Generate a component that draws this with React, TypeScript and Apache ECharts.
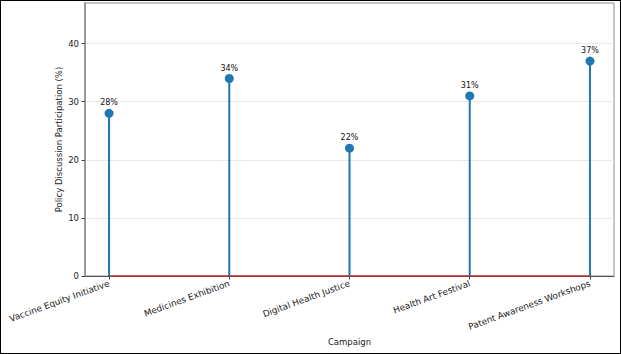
import React, { useEffect, useRef } from "react";
import * as echarts from "echarts";

const categories = [
  "Vaccine Equity Initiative",
  "Medicines Exhibition",
  "Digital Health Justice",
  "Health Art Festival",
  "Patent Awareness Workshops",
];
const participation = [28, 34, 22, 31, 37];
const yTicks = [0, 10, 20, 30, 40];

const FONT = "DejaVu Sans";

export default function App() {
  const ref = useRef<HTMLDivElement>(null);
  useEffect(() => {
    if (!ref.current) return;
    const chart = echarts.init(ref.current, null, { renderer: "svg" });
    const idx = categories.map((_, i) => i);
    const points = participation.map((v, i) => [i, v]);
    chart.setOption({
      animation: false,
      backgroundColor: "#fff",
      textStyle: { fontFamily: FONT },
      grid: {
        left: 85,
        right: 7,
        top: 3,
        bottom: 78,
        show: true,
        borderColor: "#8c8c8c",
        borderWidth: 1,
      },
      xAxis: {
        type: "value",
        min: -0.2,
        max: 4.2,
        name: "Campaign",
        nameLocation: "middle",
        nameGap: 61,
        nameMoveOverlap: false,
        nameTextStyle: { fontFamily: FONT, fontSize: 8.5, color: "#222" },
        splitLine: { show: false },
        axisLine: { show: true, onZero: false, lineStyle: { color: "#555", width: 1 } },
        axisTick: {
          show: true,
          customValues: idx,
          length: 3.5,
          lineStyle: { color: "#444" },
        },
        axisLabel: {
          customValues: idx,
          rotate: 20,
          margin: 7,
          fontFamily: FONT,
          fontSize: 8.8,
          color: "#222",
          formatter: (v: number) => categories[Math.round(v)] ?? "",
        },
      },
      yAxis: {
        type: "value",
        min: 0,
        max: 47,
        name: "Policy Discussion Participation (%)",
        nameLocation: "middle",
        nameRotate: 90,
        nameGap: 22,
        nameMoveOverlap: false,
        nameTextStyle: { fontFamily: FONT, fontSize: 8.5, color: "#222" },
        axisLine: { show: true, onZero: false, lineStyle: { color: "#9a9a9a", width: 2 } },
        axisTick: {
          show: true,
          customValues: yTicks,
          length: 3.5,
          lineStyle: { color: "#444" },
        },
        axisLabel: {
          customValues: yTicks,
          margin: 6,
          fontFamily: FONT,
          fontSize: 8.5,
          color: "#222",
        },
        splitLine: {
          show: true,
          lineStyle: { color: "#e8e8e8", width: 1 },
        },
      },
      series: [
        {
          type: "line",
          data: [
            [0, 0],
            [categories.length - 1, 0],
          ],
          symbol: "none",
          lineStyle: { color: "#c9302c", width: 1.5 },
          z: 3,
        },
        {
          type: "custom",
          data: points,
          renderItem: (params: any, api: any) => {
            const x = api.value(0);
            const y = api.value(1);
            const p0 = api.coord([x, 0]);
            const p1 = api.coord([x, y]);
            return {
              type: "line",
              shape: { x1: p0[0], y1: p0[1], x2: p1[0], y2: p1[1] },
              style: { stroke: "#1f77b4", lineWidth: 2 },
            };
          },
          z: 4,
        },
        {
          type: "scatter",
          data: points,
          symbolSize: 9,
          itemStyle: { color: "#1f77b4", opacity: 1 },
          label: {
            show: true,
            position: "top",
            distance: 2,
            fontFamily: FONT,
            fontSize: 8,
            color: "#111",
            formatter: (p: any) => `${p.value[1]}%`,
          },
          z: 5,
        },
      ],
    });
    return () => chart.dispose();
  }, []);
  return (
    <>
      <div
        ref={ref}
        style={{ position: "fixed", left: 0, top: 0, width: 621, height: 354 }}
      />
      <div
        style={{
          position: "fixed",
          left: 0,
          top: 0,
          width: 621,
          height: 354,
          boxSizing: "border-box",
          border: "1px solid #000",
          pointerEvents: "none",
        }}
      />
    </>
  );
}
